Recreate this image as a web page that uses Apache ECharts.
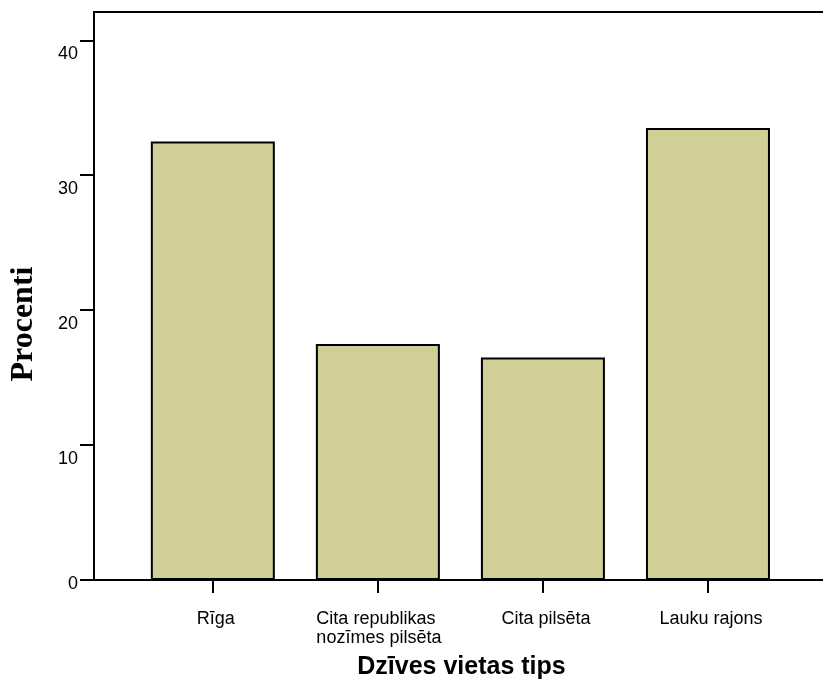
<!DOCTYPE html>
<html>
<head>
<meta charset="utf-8">
<script src="https://cdn.jsdelivr.net/npm/echarts@6/dist/echarts.min.js"></script>
<style>
html,body{margin:0;padding:0;background:#fff;overflow:hidden;width:823px;height:685px;}
#chart{width:900px;height:685px;}
</style>
</head>
<body>
<div id="chart"></div>
<script>
const categories = ['Rīga', 'Cita republikas\nnozīmes pilsēta', 'Cita pilsēta', 'Lauku rajons'];
const percentages = [32.5, 17.5, 16.5, 33.5];
const yTicks = [0, 10, 20, 30, 40];
const xTicks = [0, 1, 2, 3];
const xTitle = 'Dzīves vietas tips';
const yTitle = 'Procenti';

const chart = echarts.init(document.getElementById('chart'), null, {renderer: 'canvas'});
const sans = "'Liberation Sans', Arial, sans-serif";
function xLabel(v) {
  const text = categories[Math.round(v)];
  const lines = text.split('\n');
  if (lines.length === 1) return '{c|' + text + '}';
  return lines.map(l => '{l|' + l + '}').join('\n');
}
chart.setOption({
  animation: false,
  backgroundColor: '#fff',
  grid: {
    left: 94, top: 12, right: 27, bottom: 104.5,
    show: true, borderColor: '#000', borderWidth: 2, backgroundColor: 'transparent'
  },
  xAxis: {
    type: 'value',
    min: -0.72, max: 4.0,
    splitLine: {show: false},
    axisLine: {show: true, onZero: false, lineStyle: {color: '#000', width: 2}},
    axisTick: {show: true, customValues: xTicks, length: 13, lineStyle: {color: '#000', width: 2}},
    axisLabel: {
      customValues: xTicks,
      formatter: xLabel,
      margin: 30, color: '#000', fontFamily: sans, fontSize: 18, lineHeight: 19,
      padding: [0, 0, 0, 6],
      rich: {
        c: {fontFamily: sans, fontSize: 18, lineHeight: 19, color: '#000'},
        l: {fontFamily: sans, fontSize: 18, lineHeight: 19, color: '#000', width: 129, align: 'left'}
      }
    },
    name: xTitle,
    nameLocation: 'middle',
    nameGap: 75,
    nameTextStyle: {color: '#000', fontFamily: sans, fontSize: 25, fontWeight: 'bold', padding: [0, 44, 0, 0]}
  },
  yAxis: {
    type: 'value',
    min: 0, max: 42.1,
    splitLine: {show: false},
    axisLine: {show: true, onZero: false, lineStyle: {color: '#000', width: 2}},
    axisTick: {show: true, customValues: yTicks, length: 14, lineStyle: {color: '#000', width: 2}},
    axisLabel: {
      customValues: yTicks,
      formatter: v => v === 0 ? '{z|0}' : '{n|' + v + '}',
      margin: 16, color: '#000', fontFamily: sans, fontSize: 18,
      verticalAlign: 'middle',
      rich: {
        n: {fontFamily: sans, fontSize: 18, color: '#000', padding: [28, 0, 0, 0]},
        z: {fontFamily: sans, fontSize: 18, color: '#000', padding: [8, 0, 0, 0]}
      }
    },
    name: yTitle,
    nameLocation: 'middle',
    nameRotate: 90,
    nameGap: 54,
    nameTextStyle: {color: '#000', fontFamily: "'Liberation Serif', 'Times New Roman', serif", fontSize: 32, fontWeight: 'bold', padding: [0, 56, 0, 0]}
  },
  series: [{
    type: 'bar',
    data: percentages.map((p, i) => [i, p]),
    barWidth: 124,
    itemStyle: {color: '#d2ce98', borderColor: '#000', borderWidth: 2}
  }]
});
</script>
</body>
</html>
